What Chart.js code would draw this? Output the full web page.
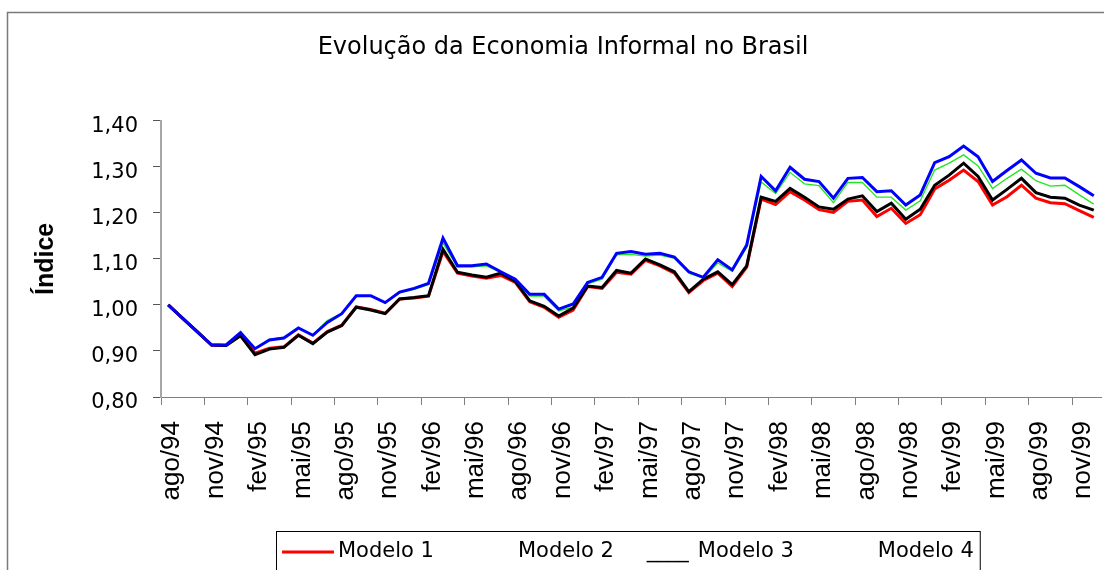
<!DOCTYPE html>
<html>
<head>
    <meta charset="utf-8">
    <title>Evolução da Economia Informal no Brasil</title>
    <style>
        html, body { margin: 0; padding: 0; background: #fff; overflow: hidden; }
        #wrap { width: 1126px; height: 600px; }
    </style>
</head>
<body>
    <div id="wrap">
        <canvas id="chart" width="1126" height="600"></canvas>
    </div>

    <script src="https://cdn.jsdelivr.net/npm/chart.js@4"></script>
    <script>
        // months ago/94 .. dez/99
        const categories = [
            'ago/94', 'set/94', 'out/94', 'nov/94', 'dez/94',
            'jan/95', 'fev/95', 'mar/95', 'abr/95', 'mai/95', 'jun/95', 'jul/95', 'ago/95', 'set/95', 'out/95', 'nov/95', 'dez/95',
            'jan/96', 'fev/96', 'mar/96', 'abr/96', 'mai/96', 'jun/96', 'jul/96', 'ago/96', 'set/96', 'out/96', 'nov/96', 'dez/96',
            'jan/97', 'fev/97', 'mar/97', 'abr/97', 'mai/97', 'jun/97', 'jul/97', 'ago/97', 'set/97', 'out/97', 'nov/97', 'dez/97',
            'jan/98', 'fev/98', 'mar/98', 'abr/98', 'mai/98', 'jun/98', 'jul/98', 'ago/98', 'set/98', 'out/98', 'nov/98', 'dez/98',
            'jan/99', 'fev/99', 'mar/99', 'abr/99', 'mai/99', 'jun/99', 'jul/99', 'ago/99', 'set/99', 'out/99', 'nov/99', 'dez/99'
        ];

        const modelo1 = [
            1.000, 0.971, 0.942, 0.913, 0.912, 0.934, 0.895, 0.906, 0.909, 0.935,
            0.917, 0.942, 0.956, 0.996, 0.990, 0.982, 1.013, 1.015, 1.019, 1.116,
            1.069, 1.063, 1.058, 1.064, 1.049, 1.007, 0.995, 0.973, 0.989, 1.040,
            1.036, 1.071, 1.067, 1.097, 1.085, 1.069, 1.027, 1.053, 1.069, 1.040,
            1.082, 1.230, 1.218, 1.246, 1.228, 1.207, 1.201, 1.225, 1.228, 1.192,
            1.210, 1.177, 1.196, 1.252, 1.271, 1.293, 1.268, 1.217, 1.235, 1.260,
            1.232, 1.222, 1.220, 1.205, 1.190
        ];
        const modelo2 = [
            1.000, 0.971, 0.942, 0.913, 0.913, 0.939, 0.906, 0.925, 0.930, 0.950,
            0.935, 0.966, 0.982, 1.018, 1.019, 1.004, 1.026, 1.034, 1.044, 1.134,
            1.082, 1.083, 1.085, 1.070, 1.053, 1.019, 1.019, 0.987, 0.995, 1.046,
            1.056, 1.109, 1.110, 1.106, 1.108, 1.101, 1.069, 1.058, 1.091, 1.073,
            1.125, 1.267, 1.242, 1.288, 1.263, 1.259, 1.222, 1.266, 1.266, 1.234,
            1.234, 1.206, 1.226, 1.293, 1.308, 1.326, 1.302, 1.253, 1.275, 1.295,
            1.270, 1.258, 1.260, 1.239, 1.219
        ];
        const modelo3 = [
            1.000, 0.971, 0.942, 0.913, 0.912, 0.933, 0.892, 0.904, 0.908, 0.934,
            0.916, 0.941, 0.955, 0.995, 0.989, 0.981, 1.013, 1.016, 1.020, 1.121,
            1.071, 1.065, 1.060, 1.069, 1.051, 1.009, 0.997, 0.976, 0.993, 1.041,
            1.038, 1.075, 1.069, 1.100, 1.087, 1.072, 1.029, 1.056, 1.072, 1.044,
            1.085, 1.234, 1.225, 1.253, 1.234, 1.213, 1.208, 1.230, 1.237, 1.203,
            1.221, 1.186, 1.208, 1.260, 1.282, 1.308, 1.279, 1.228, 1.251, 1.275,
            1.244, 1.234, 1.232, 1.217, 1.206
        ];
        const modelo4 = [
            1.000, 0.971, 0.942, 0.913, 0.913, 0.940, 0.905, 0.924, 0.928, 0.950,
            0.934, 0.962, 0.981, 1.020, 1.020, 1.005, 1.028, 1.036, 1.047, 1.145,
            1.085, 1.085, 1.089, 1.072, 1.056, 1.023, 1.023, 0.991, 1.002, 1.049,
            1.060, 1.112, 1.116, 1.110, 1.112, 1.104, 1.072, 1.060, 1.098, 1.076,
            1.130, 1.279, 1.248, 1.299, 1.273, 1.268, 1.232, 1.275, 1.277, 1.246,
            1.248, 1.217, 1.239, 1.309, 1.322, 1.345, 1.322, 1.268, 1.292, 1.315,
            1.286, 1.276, 1.276, 1.257, 1.237
        ];

        const seriesNames = ['Modelo 1', 'Modelo 2', 'Modelo 3', 'Modelo 4'];
        const seriesColors = ['#ff0000', '#22e622', '#000000', '#0000ff'];
        const seriesWidths = [3, 1.3, 3, 3];
        // how each entry shows in the legend box of the original
        const legendSamples = ['line', 'none', 'text', 'none'];

        const yMin = 0.8, yMax = 1.4, yStep = 0.1;

        // white page + the grey frame of the chart object
        const frame = {
            id: 'frame',
            beforeDraw(chart) {
                const ctx = chart.ctx;
                ctx.save();
                ctx.fillStyle = '#fff';
                ctx.fillRect(0, 0, chart.width, chart.height);
                ctx.strokeStyle = '#7a7a7a';
                ctx.lineWidth = 1.5;
                ctx.strokeRect(7.5, 12.5, chart.width - 15, chart.height - 20);
                ctx.restore();
            }
        };

        // boxed legend under the plot
        const legendBox = {
            id: 'legendBox',
            afterDraw(chart) {
                const ctx = chart.ctx;
                const area = chart.chartArea;
                const sampleW = 52, gap = 4, spacing = 28, pad = 6;
                ctx.save();
                ctx.font = '21px "DejaVu Sans"';
                const items = chart.data.datasets.map((ds, i) => ({
                    ds: ds,
                    kind: legendSamples[i],
                    w: sampleW + gap + ctx.measureText(ds.label).width
                }));
                let total = pad * 2 + spacing * (items.length - 1);
                items.forEach(it => total += it.w);
                const left = Math.round((area.left + area.right) / 2 - total / 2) - 3;
                const top = Math.round(area.bottom) + 134;
                ctx.strokeStyle = '#000';
                ctx.lineWidth = 1;
                ctx.strokeRect(left + 0.5, top + 0.5, total, 80);

                const mid = top + 21;
                let x = left + pad;
                ctx.textBaseline = 'middle';
                ctx.fillStyle = '#000';
                items.forEach(it => {
                    const textX = x + sampleW + gap;
                    if (it.kind === 'line') {
                        ctx.strokeStyle = it.ds.borderColor;
                        ctx.lineWidth = 3;
                        ctx.beginPath();
                        ctx.moveTo(x, mid);
                        ctx.lineTo(x + sampleW, mid);
                        ctx.stroke();
                    } else if (it.kind === 'text') {
                        ctx.textAlign = 'right';
                        ctx.fillText('____', textX - 9, mid);
                    }
                    ctx.textAlign = 'left';
                    ctx.fillText(it.ds.label, textX, mid);
                    x += it.w + spacing;
                });
                ctx.restore();
            }
        };

        const datasets = seriesNames.map((name, i) => ({
            label: name,
            data: [modelo1, modelo2, modelo3, modelo4][i],
            borderColor: seriesColors[i],
            backgroundColor: seriesColors[i],
            borderWidth: seriesWidths[i],
            pointRadius: 0,
            tension: 0,
            fill: false,
            order: 3 - i
        }));

        const ctx = document.getElementById('chart').getContext('2d');
        new Chart(ctx, {
            type: 'line',
            data: { labels: categories, datasets: datasets },
            plugins: [frame, legendBox],
            options: {
                responsive: false,
                devicePixelRatio: 1,
                animation: false,
                events: [],
                layout: { padding: { left: 25, right: 25, top: 0, bottom: 83 } },
                plugins: {
                    legend: { display: false },
                    tooltip: { enabled: false },
                    title: {
                        display: true,
                        text: 'Evolução da Economia Informal no Brasil',
                        color: '#000',
                        font: { family: '"DejaVu Sans"', size: 24, weight: 'normal', lineHeight: 1.2 },
                        padding: { top: 33, bottom: 59 }
                    }
                },
                scales: {
                    x: {
                        type: 'category',
                        offset: true,
                        afterFit: s => {
                            s.height = 120;
                            // rotated labels sit inside the plot width, no extra side room
                            s.paddingLeft = 0;
                            s.paddingRight = 0;
                        },
                        border: { color: '#808080', width: 1 },
                        grid: {
                            offset: true,
                            drawOnChartArea: false,
                            drawTicks: true,
                            tickLength: 8,
                            color: c => (c.index % 3 === 0 ? '#808080' : 'rgba(0,0,0,0)')
                        },
                        ticks: {
                            autoSkip: false,
                            minRotation: 90,
                            maxRotation: 90,
                            padding: 16,
                            labelOffset: 4,
                            color: '#000',
                            font: { family: '"Liberation Sans"', size: 26 },
                            callback: function (val, idx) {
                                return idx % 3 === 0 ? this.getLabelForValue(val) : '';
                            }
                        }
                    },
                    y: {
                        min: yMin,
                        max: yMax,
                        afterFit: s => { s.width = 136; },
                        border: { color: '#a6a6a6', width: 2 },
                        grid: {
                            drawOnChartArea: false,
                            drawTicks: true,
                            tickLength: 8,
                            color: '#555'
                        },
                        ticks: {
                            stepSize: yStep,
                            padding: 15,
                            labelOffset: 6,
                            color: '#000',
                            font: { family: '"DejaVu Sans"', size: 21 },
                            callback: v => v.toFixed(2).replace('.', ',')
                        },
                        title: {
                            display: true,
                            text: 'Índice',
                            color: '#000',
                            font: { family: '"Liberation Sans"', size: 25, weight: 'bold', lineHeight: 1.2 },
                            padding: { top: 6, bottom: 0 }
                        }
                    }
                }
            }
        });
    </script>
</body>
</html>
